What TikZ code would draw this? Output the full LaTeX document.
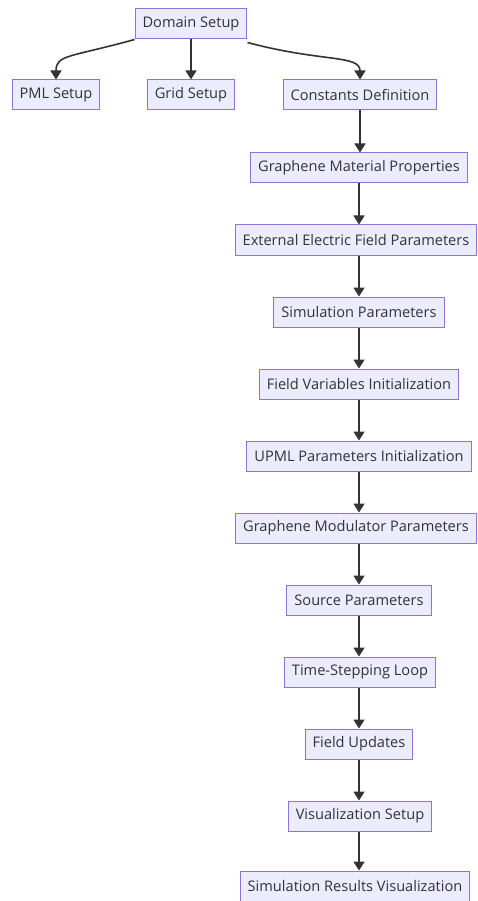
\documentclass[tikz,border=0pt]{standalone}
\usepackage{fontspec}
\setmainfont{Open Sans}
\usetikzlibrary{arrows.meta}
\definecolor{nodefill}{HTML}{ECECFF}
\definecolor{nodeborder}{HTML}{9370DB}
\definecolor{edgecol}{HTML}{333333}
\definecolor{txtcol}{HTML}{333333}
\begin{document}
\begin{tikzpicture}[x=1pt,y=-1pt,
  box/.style={draw=nodeborder,fill=nodefill,line width=1pt,minimum height=30pt,inner xsep=7.5pt,inner ysep=0pt,
    font=\fontsize{14.6}{17}\selectfont,text=txtcol},
  arr/.style={draw=edgecol,line width=1.6pt,-{Triangle[length=9pt,width=11pt]}}]
\useasboundingbox (0,0) rectangle (477,901);
\node[box] (dom) at (191,24) {Domain Setup};
\node[box] (pml) at (56,95) {PML Setup};
\node[box] (grid) at (191,95) {Grid Setup};
\node[box] (const) at (360,95) {Constants Definition};
\node[box] (gmp) at (359,168) {Graphene Material Properties};
\node[box] (eef) at (356,240) {External Electric Field Parameters};
\node[box] (sim) at (359,312) {Simulation Parameters};
\node[box] (fvi) at (359,384) {Field Variables Initialization};
\node[box] (upml) at (359,456) {UPML Parameters Initialization};
\node[box] (gmod) at (356,528) {Graphene Modulator Parameters};
\node[box] (src) at (359,600) {Source Parameters};
\node[box] (tsl) at (360,672) {Time-Stepping Loop};
\node[box] (fu) at (359,744) {Field Updates};
\node[box] (vis) at (360,816) {Visualization Setup};
\node[box] (srv) at (355,886) {Simulation Results Visualization};
\draw[arr] (dom.south west) .. controls +(-65,18) and +(0,-25) .. (pml.north);
\draw[arr] (dom.south) -- (grid.north);
\draw[arr] ([yshift=-3pt]dom.south east) .. controls +(75,20) and +(0,-25) .. (const.north);
\draw[arr] (const.south) -- (const.south |- gmp.north);
\draw[arr] (gmp.south) -- (gmp.south |- eef.north);
\draw[arr] (gmp.south |- eef.south) -- (sim.north);
\draw[arr] (sim.south) -- (fvi.north);
\draw[arr] (fvi.south) -- (upml.north);
\draw[arr] (upml.south) -- (upml.south |- gmod.north);
\draw[arr] (upml.south |- gmod.south) -- (src.north);
\draw[arr] (src.south) -- (src.south |- tsl.north);
\draw[arr] (src.south |- tsl.south) -- (src.south |- fu.north);
\draw[arr] (src.south |- fu.south) -- (src.south |- vis.north);
\draw[arr] (src.south |- vis.south) -- (src.south |- srv.north);
\end{tikzpicture}
\end{document}
